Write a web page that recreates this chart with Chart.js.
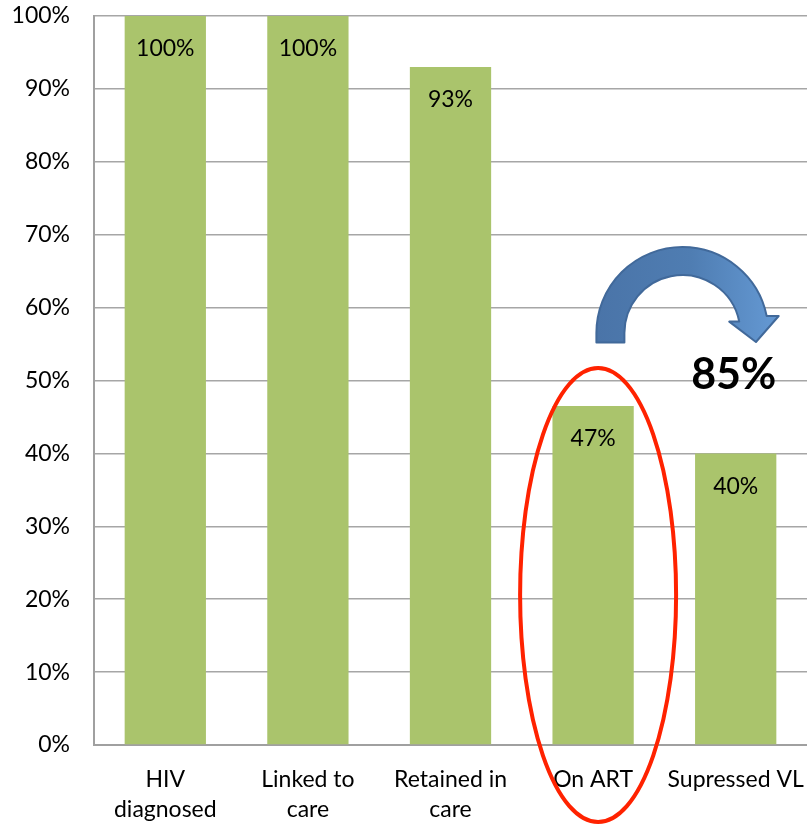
<!DOCTYPE html>
<html>
<head>
<meta charset="utf-8">
<script src="https://cdn.jsdelivr.net/npm/chart.js@4/dist/chart.umd.min.js"></script>
<style>
  html, body { margin: 0; padding: 0; background: #fff; }
  #wrap { width: 807px; height: 824px; position: relative; }
</style>
</head>
<body>
<div id="wrap"><canvas id="cascadeChart"></canvas></div>
<script>
// data
const categories = [["HIV", "diagnosed"], ["Linked to", "care"], ["Retained in", "care"], "On ART", "Supressed VL"];
const percentValues = [100, 100, 93, 46.5, 40];
const valueLabels = ["100%", "100%", "93%", "47%", "40%"];
const highlightIndex = 3;
const arrowText = "85%";

const fontFamily = "Lato, 'Liberation Sans', sans-serif";

// labels inside the top of each bar
const barLabels = {
    id: 'barLabels',
    afterDatasetsDraw(chart) {
        const ctx = chart.ctx;
        const meta = chart.getDatasetMeta(0);
        ctx.save();
        ctx.font = "23px " + fontFamily;
        ctx.fillStyle = "#000";
        ctx.textAlign = "center";
        ctx.textBaseline = "middle";
        meta.data.forEach((bar, i) => {
            ctx.fillText(valueLabels[i], bar.x, bar.y + 33);
        });
        ctx.restore();
    }
};

// red ellipse + blue curved arrow + 85% text
const shapes = {
    id: 'shapes',
    afterDraw(chart) {
        const ctx = chart.ctx;
        const x = chart.scales.x, y = chart.scales.y;
        const xa = x.getPixelForValue(highlightIndex);
        const xb = x.getPixelForValue(highlightIndex + 1);

        // ellipse round "On ART"
        ctx.save();
        ctx.strokeStyle = "#FF2200";
        ctx.lineWidth = 4;
        const top = y.getPixelForValue(51.7);
        const bottom = 822;
        ctx.beginPath();
        ctx.ellipse(xa + 5, (top + bottom) / 2, 78, (bottom - top) / 2, 0, 0, Math.PI * 2);
        ctx.stroke();
        ctx.restore();

        // curved arrow
        const cx = (xa + xb) / 2 + 18;
        const cy = y.getPixelForValue(56.5);
        const ro = 86, ri = 58;
        const endA = -0.2;
        const leftBottom = y.getPixelForValue(55.2);
        ctx.save();
        const grad = ctx.createLinearGradient(cx - ro, 0, cx + ro, 0);
        grad.addColorStop(0, "#4A74A8");
        grad.addColorStop(0.55, "#4F7DB2");
        grad.addColorStop(1, "#6296D0");
        ctx.fillStyle = grad;
        ctx.strokeStyle = "#41699A";
        ctx.lineWidth = 2;
        ctx.lineJoin = "round";
        ctx.beginPath();
        ctx.moveTo(cx - ro, leftBottom);
        ctx.lineTo(cx - ro, cy);
        ctx.arc(cx, cy, ro, Math.PI, 2 * Math.PI + endA);
        const oxe = cx + ro * Math.cos(endA), oye = cy + ro * Math.sin(endA);
        const ixe = cx + ri * Math.cos(endA), iye = cy + ri * Math.sin(endA);
        ctx.lineTo(oxe + 12, oye);
        ctx.lineTo((oxe + ixe) / 2 + 3, oye + 26);
        ctx.lineTo(ixe - 10, iye);
        ctx.lineTo(ixe, iye);
        ctx.arc(cx, cy, ri, 2 * Math.PI + endA, Math.PI, true);
        ctx.lineTo(cx - ri, leftBottom);
        ctx.closePath();
        ctx.fill();
        ctx.stroke();
        ctx.restore();

        // 85%
        ctx.save();
        ctx.font = "bold 43px " + fontFamily;
        ctx.fillStyle = "#000";
        ctx.textAlign = "center";
        ctx.textBaseline = "middle";
        ctx.fillText(arrowText, xb - 2, y.getPixelForValue(50.8));
        ctx.restore();
    }
};

new Chart(document.getElementById('cascadeChart'), {
    type: 'bar',
    data: {
        labels: categories,
        datasets: [{
            data: percentValues,
            backgroundColor: "#AAC46C",
            borderWidth: 0,
            barPercentage: 0.57,
            categoryPercentage: 1
        }]
    },
    options: {
        responsive: true,
        maintainAspectRatio: false,
        animation: false,
        layout: { padding: { top: 16, right: 0, left: 0, bottom: 0 } },
        plugins: {
            legend: { display: false },
            tooltip: { enabled: false }
        },
        scales: {
            x: {
                afterFit(scale) {
                    scale.paddingLeft = 0;
                    scale.paddingRight = 0;
                    scale.height = 79;
                },
                grid: { display: false, drawTicks: false },
                border: { color: "#A0A0A0", width: 2 },
                ticks: {
                    color: "#000",
                    font: { family: fontFamily, size: 23, lineHeight: 1.3 },
                    padding: 20,
                    maxRotation: 0,
                    autoSkip: false
                }
            },
            y: {
                min: 0,
                max: 100,
                afterFit(scale) {
                    scale.width = 94;
                    scale.paddingTop = 0;
                    scale.paddingBottom = 0;
                },
                grid: { color: "#A6A6A6", lineWidth: 1.5, drawTicks: false },
                border: { color: "#A0A0A0", width: 2 },
                ticks: {
                    stepSize: 10,
                    color: "#000",
                    font: { family: fontFamily, size: 23 },
                    padding: 24,
                    callback: v => v + "%"
                }
            }
        }
    },
    plugins: [barLabels, shapes]
});
</script>
</body>
</html>
